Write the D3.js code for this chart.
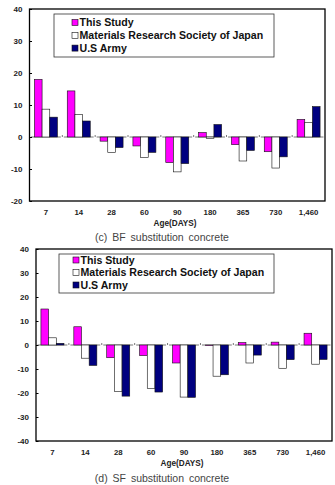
<!DOCTYPE html>
<html>
  <head>
    <meta charset="utf-8">
    <title>BF / SF substitution concrete</title>
    <script src="https://cdn.jsdelivr.net/npm/d3@7"></script>
  </head>

  <style>
    body { margin: 0; background: #fff; }
    text { font-family: "Liberation Sans", Arial, sans-serif; }
  </style>

  <body>
    <script>

      var categories = ["7", "14", "28", "60", "90", "180", "365", "730", "1,460"];
      var seriesNames = ["This Study", "Materials Research Society of Japan", "U.S Army"];
      var seriesColors = ["#FF00FF", "#FFFFFF", "#000080"];

      // (c) BF substitution concrete
      var bfThisStudy = [18.0, 14.4, -1.3, -2.8, -8.0, 1.4, -2.4, -4.6, 5.5];
      var bfJapan     = [8.7, 7.0, -4.8, -6.4, -10.9, -0.4, -7.5, -9.7, 4.5];
      var bfArmy      = [6.2, 5.0, -3.3, -4.8, -8.3, 3.9, -4.2, -6.2, 9.5];
      var bfTicks     = [-20, -10, 0, 10, 20, 30, 40];

      // (d) SF substitution concrete
      var sfThisStudy = [15.0, 7.6, -5.3, -4.4, -7.5, -0.2, 1.0, 1.2, 4.9];
      var sfJapan     = [3.0, -5.5, -19.3, -18.2, -21.7, -13.0, -7.5, -9.7, -8.0];
      var sfArmy      = [0.7, -8.5, -21.3, -19.6, -21.8, -12.4, -4.2, -6.1, -6.0];
      var sfTicks     = [-40, -30, -20, -10, 0, 10, 20, 30, 40];

      var width = 335, height = 485;

      var svg = d3.select("body")
        .append("svg")
        .attr("width", width)
        .attr("height", height);

      function drawPanel(p) {
        var g = svg.append("g");

        var x0 = d3.scaleBand()
          .domain(categories)
          .range([p.left, p.right])
          .padding(0);

        var x1 = d3.scaleBand()
          .domain(d3.range(seriesNames.length))
          .range([x0.bandwidth() * 0.15, x0.bandwidth() * 0.85])
          .padding(0);

        var y = d3.scaleLinear()
          .domain([p.ticks[0], p.ticks[p.ticks.length - 1]])
          .range([p.bottom, p.top]);

        var rows = categories.map(function (c, i) {
          return { cat: c, vals: p.series.map(function (s) { return s[i]; }) };
        });

        // zero line, broken at category boundaries
        g.selectAll(".zero")
          .data(categories)
          .enter()
          .append("line")
          .attr("x1", function (d) { return x0(d) + 1.5; })
          .attr("x2", function (d) { return x0(d) + x0.bandwidth() - 1.5; })
          .attr("y1", y(0))
          .attr("y2", y(0))
          .attr("stroke", "#555")
          .attr("stroke-width", 0.8);

        g.selectAll(".sep")
          .data(categories.slice(1))
          .enter()
          .append("line")
          .attr("x1", function (d) { return x0(d); })
          .attr("x2", function (d) { return x0(d); })
          .attr("y1", y(0) - 2)
          .attr("y2", y(0))
          .attr("stroke", "#555")
          .attr("stroke-width", 0.8);

        var grp = g.selectAll(".grp")
          .data(rows)
          .enter()
          .append("g")
          .attr("transform", function (d) { return "translate(" + x0(d.cat) + ",0)"; });

        grp.selectAll("rect")
          .data(function (d) { return d.vals.map(function (v, i) { return { i: i, v: v }; }); })
          .enter()
          .append("rect")
          .attr("x", function (d) { return x1(d.i); })
          .attr("width", x1.bandwidth())
          .attr("y", function (d) { return y(Math.max(0, d.v)); })
          .attr("height", function (d) { return Math.abs(y(d.v) - y(0)); })
          .attr("fill", function (d) { return seriesColors[d.i]; })
          .attr("stroke", "#111")
          .attr("stroke-width", 0.6);

        // frame
        g.append("rect")
          .attr("x", p.left)
          .attr("y", p.top)
          .attr("width", p.right - p.left)
          .attr("height", p.bottom - p.top)
          .attr("fill", "none")
          .attr("stroke", "#000")
          .attr("stroke-width", 1.3);

        // y axis ticks (inside) and labels
        var yAxis = d3.axisRight(y)
          .tickValues(p.ticks)
          .tickSize(2.5)
          .tickFormat("");
        g.append("g")
          .attr("transform", "translate(" + p.left + ",0)")
          .call(yAxis)
          .call(function (a) { a.select(".domain").remove(); });

        g.selectAll(".ylab")
          .data(p.ticks)
          .enter()
          .append("text")
          .attr("x", p.left - 7)
          .attr("y", function (d) { return y(d); })
          .attr("dy", "0.35em")
          .attr("text-anchor", "end")
          .attr("font-size", "8px")
          .attr("font-weight", "bold")
          .attr("fill", "#222")
          .text(function (d) { return d; });

        // x labels
        g.selectAll(".xlab")
          .data(categories)
          .enter()
          .append("text")
          .attr("x", function (d) { return x0(d) + x0.bandwidth() / 2; })
          .attr("y", p.bottom + 11)
          .attr("dy", "0.35em")
          .attr("text-anchor", "middle")
          .attr("font-size", "7.8px")
          .attr("font-weight", "bold")
          .attr("fill", "#222")
          .text(function (d) { return d; });

        g.append("text")
          .attr("x", p.titleX)
          .attr("y", p.bottom + 22)
          .attr("dy", "0.35em")
          .attr("text-anchor", "middle")
          .attr("font-size", "8.2px")
          .attr("font-weight", "bold")
          .attr("fill", "#222")
          .text("Age(DAYS)");

        g.append("text")
          .attr("x", 162)
          .attr("y", p.captionY)
          .attr("dy", "0.35em")
          .attr("text-anchor", "middle")
          .attr("font-size", "10.5px")
          .attr("word-spacing", "2px")
          .attr("fill", "#444")
          .text(p.caption);

        // legend
        var L = p.legend;
        g.append("rect")
          .attr("x", L.x)
          .attr("y", L.y)
          .attr("width", L.w)
          .attr("height", L.h)
          .attr("fill", "#fff")
          .attr("stroke", "#333")
          .attr("stroke-width", 0.8);

        var item = g.selectAll(".leg")
          .data(seriesNames)
          .enter()
          .append("g")
          .attr("transform", function (d, i) {
            return "translate(" + L.sx + "," + (L.y0 + i * L.step) + ")";
          });

        item.append("rect")
          .attr("x", 0)
          .attr("y", -3)
          .attr("width", 6)
          .attr("height", 6)
          .attr("fill", function (d, i) { return seriesColors[i]; })
          .attr("stroke", "#111")
          .attr("stroke-width", 0.6);

        item.append("text")
          .attr("x", 7.5)
          .attr("y", 0)
          .attr("dy", "0.35em")
          .attr("font-size", "10.6px")
          .attr("font-weight", "bold")
          .attr("fill", "#111")
          .text(function (d) { return d; });
      }

      drawPanel({
        left: 29.5, right: 325, top: 9, bottom: 201,
        ticks: bfTicks,
        series: [bfThisStudy, bfJapan, bfArmy],
        titleX: 175,
        captionY: 237,
        caption: "(c) BF substitution concrete",
        legend: { x: 54, y: 14, w: 220, h: 43, sx: 72, y0: 22.5, step: 12.8 }
      });

      drawPanel({
        left: 36, right: 332, top: 249, bottom: 441,
        ticks: sfTicks,
        series: [sfThisStudy, sfJapan, sfArmy],
        titleX: 182,
        captionY: 478.5,
        caption: "(d) SF substitution concrete",
        legend: { x: 59, y: 254, w: 215, h: 39, sx: 73, y0: 260, step: 12.5 }
      });

    </script>
  </body>
</html>
